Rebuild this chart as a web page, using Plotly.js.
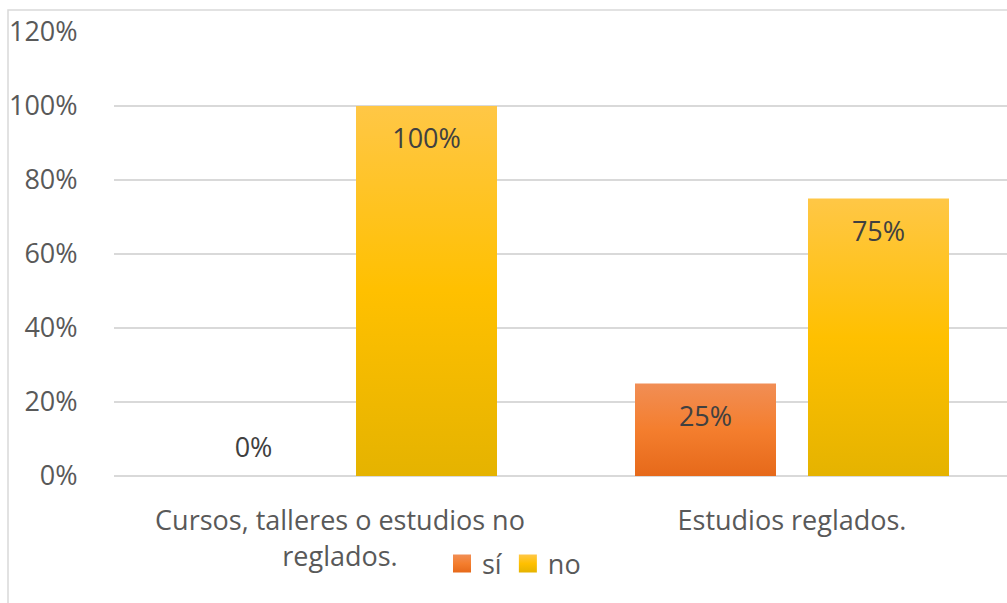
<!DOCTYPE html>
<html>
<head>
<meta charset="utf-8">
<script src="https://cdn.plot.ly/plotly-3.0.1.min.js"></script>
<style>
html,body{margin:0;padding:0;background:#fff;overflow:hidden;}
#chart{width:1007px;height:603px;}
</style>
</head>
<body>
<div id="chart"></div>
<script>
const categories = ["Cursos, talleres o estudios no<br>reglados.", "Estudios reglados."];
const siValues = [0, 0.25];
const noValues = [1.0, 0.75];
const seriesNames = ["sí", "no"];
const yTickVals = [0, 0.2, 0.4, 0.6, 0.8, 1.0, 1.2];

const FONT = "Open Sans, sans-serif";
const TXT = "#595959";
const FS = 27;

const traces = [
  {
    type: "bar", name: seriesNames[0], x: categories, y: siValues,
    marker: {color: "#F07D2C"},
    text: siValues.map(v => Math.round(v*100) + "%"),
    textposition: siValues.map(v => v === 0 ? "outside" : "inside"),
    insidetextanchor: "end",
    textfont: {family: FONT, size: FS, color: "#404040"},
    outsidetextfont: {family: FONT, size: FS, color: "#404040"},
    cliponaxis: false, hoverinfo: "none"
  },
  {
    type: "bar", name: seriesNames[1], x: categories, y: noValues,
    marker: {color: "#FFC000"},
    text: noValues.map(v => Math.round(v*100) + "%"),
    textposition: "inside",
    insidetextanchor: "end",
    textfont: {family: FONT, size: FS, color: "#404040"},
    cliponaxis: false, hoverinfo: "none"
  }
];

const plotL = 114, plotR = 1007, plotT = 32, plotB = 476;
const pw = plotR - plotL, ph = plotB - plotT;

const layout = {
  width: 1007, height: 603,
  margin: {l: plotL, r: 0, t: plotT, b: 603 - plotB, pad: 0},
  paper_bgcolor: "#fff", plot_bgcolor: "#fff",
  font: {family: FONT, size: FS, color: TXT},
  barmode: "group", bargap: 0.2345, bargroupgap: 0.185,
  showlegend: true,
  legend: {orientation: "h", x: (514 - plotL)/pw, xanchor: "center", y: (plotB - 564)/ph, yanchor: "middle",
           font: {family: FONT, size: FS, color: TXT}, bgcolor: "rgba(0,0,0,0)", itemwidth: 30, traceorder: "normal"},
  xaxis: {range: [-0.5, -0.5 + pw/452], showgrid: false, zeroline: false, showline: false,
          ticks: "outside", ticklen: 21, tickcolor: "rgba(0,0,0,0)",
          tickfont: {family: FONT, size: FS, color: TXT}, fixedrange: true},
  yaxis: {range: [0, 1.2], tickvals: yTickVals, tickformat: ".0%",
          showgrid: true, gridcolor: "#d9d9d9", gridwidth: 1.5,
          zeroline: true, zerolinecolor: "#d9d9d9", zerolinewidth: 1.5, showline: false,
          ticks: "outside", ticklen: 30, tickcolor: "rgba(0,0,0,0)",
          tickfont: {family: FONT, size: FS, color: TXT}, fixedrange: true},
  shapes: [{type: "rect", xref: "paper", yref: "paper",
            x0: (8 - plotL)/pw, x1: (1020 - plotL)/pw, y0: (plotB - 620)/ph, y1: (plotB - 10)/ph,
            line: {color: "#d9d9d9", width: 1.5}, fillcolor: "rgba(0,0,0,0)", layer: "below"}]
};

Plotly.newPlot("chart", traces, layout, {displayModeBar: false, staticPlot: true}).then(gd => {
  const svg = gd.querySelector("svg.main-svg");
  const ns = "http://www.w3.org/2000/svg";
  const defs = document.createElementNS(ns, "defs");
  function grad(id, stops) {
    const g = document.createElementNS(ns, "linearGradient");
    g.setAttribute("id", id); g.setAttribute("x1", "0"); g.setAttribute("y1", "0");
    g.setAttribute("x2", "0"); g.setAttribute("y2", "1");
    stops.forEach(([o, c]) => {
      const s = document.createElementNS(ns, "stop");
      s.setAttribute("offset", o); s.setAttribute("stop-color", c);
      g.appendChild(s);
    });
    defs.appendChild(g);
  }
  grad("gSi", [["0", "#F18E55"], ["0.5", "#F47E2E"], ["1", "#E6691A"]]);
  grad("gNo", [["0", "#FFC746"], ["0.5", "#FFC000"], ["1", "#E5B300"]]);
  svg.insertBefore(defs, svg.firstChild);
  const ids = ["gSi", "gNo"];
  gd.querySelectorAll(".barlayer .trace").forEach((t, i) => {
    t.querySelectorAll(".point path").forEach(p => { p.style.fill = "url(#" + ids[i] + ")"; });
    t.querySelectorAll(".point text").forEach(tx => {
      const tr = tx.getAttribute("transform") || "";
      const isOutside = tx.textContent === "0%";
      tx.setAttribute("transform", (isOutside ? "translate(0,-8) " : "translate(0,10) ") + tr);
    });
  });
  gd.querySelectorAll(".legend .traces").forEach((t, i) => {
    t.querySelectorAll(".legendpoints path").forEach(p => {
      p.style.fill = "url(#" + ids[i] + ")";
      const tr = p.getAttribute("transform") || "";
      p.setAttribute("transform", tr + " scale(1.5)");
    });
  });
});
</script>
</body>
</html>
